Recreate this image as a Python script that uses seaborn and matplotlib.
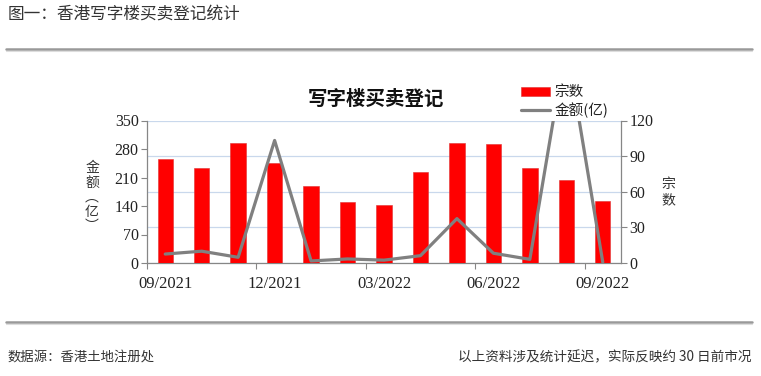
import numpy as np
import pandas as pd
import matplotlib
matplotlib.use("Agg")
import matplotlib.pyplot as plt
from matplotlib.lines import Line2D
from matplotlib.patches import Patch
import seaborn as sns

# ---- data ----
months = ["09/2021", "10/2021", "11/2021", "12/2021", "01/2022", "02/2022", "03/2022",
          "04/2022", "05/2022", "06/2022", "07/2022", "08/2022", "09/2022"]
counts = [88, 80, 101, 84, 65, 51, 49, 77, 101, 100, 80, 70, 52]          # 宗数 (right axis)
amount = [22, 29, 14, 301, 5, 10, 7, 18, 109, 24, 9, 540, 2]               # 金额(亿) (left axis)
left_ticks = [0, 70, 140, 210, 280, 350]
right_ticks = [0, 30, 60, 90, 120]
shown_labels = ["09/2021", "12/2021", "03/2022", "06/2022", "09/2022"]

sns.set_theme(style="white")
plt.rcParams["font.family"] = ["Noto Sans CJK SC", "DejaVu Sans"]

df = pd.DataFrame({"month": months, "pos": np.arange(len(months)), "count": counts, "amount": amount})

fig = plt.figure(figsize=(7.61, 3.76), dpi=100)
ax = fig.add_axes([147 / 761, 1 - 263 / 376, (621 - 147) / 761, (263 - 120.5) / 376])
ax2 = ax.twinx()

# bars (宗数) on ax, right-hand scale
sns.barplot(data=df, x="month", y="count", ax=ax, color="#FF0000", width=0.42,
            saturation=1, edgecolor="#E03030", linewidth=0.4, zorder=3)
ax.set_ylim(0, 120)
ax.set_yticks(right_ticks)
ax.yaxis.tick_right()
ax.yaxis.set_label_position("right")
ax.grid(axis="y", color="#C9D8EC", linewidth=0.9, zorder=0)
ax.grid(axis="x", visible=False)
ax.set_axisbelow(True)

# line (金额) on ax2, left-hand scale
sns.lineplot(data=df, x="pos", y="amount", ax=ax2, color="#808080", linewidth=2.3, zorder=5)
ax2.set_ylim(0, 350)
ax2.set_yticks(left_ticks)
ax2.yaxis.tick_left()
ax2.yaxis.set_label_position("left")
ax2.tick_params(axis="x", which="both", bottom=False, labelbottom=False, top=False, labeltop=False)

serif = ["Liberation Serif", "DejaVu Serif"]
tick_color = "#222222"
for a in (ax, ax2):
    a.set_xlabel("")
    a.set_ylabel("")
    for s in a.spines.values():
        s.set_visible(False)
    a.tick_params(axis="y", length=4, width=0.8, color="#868686", labelsize=11.5,
                  labelcolor=tick_color, pad=2)
    for lab in a.get_yticklabels():
        lab.set_fontfamily(serif)

ax.spines["right"].set_visible(True)
ax.spines["bottom"].set_visible(True)
ax2.spines["left"].set_visible(True)
for k in ("right", "bottom"):
    ax.spines[k].set_color("#868686")
    ax.spines[k].set_linewidth(0.9)
ax2.spines["left"].set_color("#868686")
ax2.spines["left"].set_linewidth(0.9)

# x ticks: labels every 3 months, tick marks between categories
label_pos = [months.index(m) for m in shown_labels]
ax.set_xticks(label_pos)
ax.set_xticklabels(shown_labels, fontfamily=serif, fontsize=12, color=tick_color)
ax.tick_params(axis="x", which="major", length=0, pad=9, bottom=True, labelbottom=True)
ax.set_xticks([p - 0.5 for p in label_pos[:-1]] + [len(months) - 1.5], minor=True)
ax.tick_params(axis="x", which="minor", length=4, width=0.8, color="#868686", bottom=True)
ax.set_xlim(-0.5, len(months) - 0.5)

# axis labels (vertical stacked)
fig.text(92 / 761, 1 - 197 / 376, "金\n额\n︵\n亿\n︶", ha="center", va="center",
         fontsize=10, color="#333333", linespacing=1.05)
fig.text(668 / 761, 1 - 192 / 376, "宗\n数", ha="center", va="center",
         fontsize=10, color="#333333", linespacing=1.2)

# chart title
fig.text(376 / 761, 1 - 99 / 376, "写字楼买卖登记", ha="center", va="center",
         fontsize=14, fontweight="bold", color="#111111")

# legend
handles = [Patch(facecolor="#FF0000", edgecolor="#E03030", linewidth=0.4),
           Line2D([0], [0], color="#808080", linewidth=2.3)]
fig.legend(handles, ["宗数", "金额(亿)"], loc="upper left",
           bbox_to_anchor=(514 / 761, 1 - 78 / 376), frameon=False, fontsize=10.5,
           handlelength=2.0, handleheight=0.6, handletextpad=0.3, labelspacing=0.2,
           borderpad=0.0, labelcolor="#222222")

# header / footer
fig.text(8 / 761, 1 - 14 / 376, "图一：香港写字楼买卖登记统计", ha="left", va="center",
         fontsize=12, color="#333333")
fig.add_artist(Line2D([6 / 761, 752 / 761], [1 - 48.5 / 376] * 2, color="#999999",
                      linewidth=1.8, transform=fig.transFigure))
fig.add_artist(Line2D([6 / 761, 752 / 761], [1 - 50.5 / 376] * 2, color="#DDDDDD",
                      linewidth=0.8, transform=fig.transFigure))
fig.add_artist(Line2D([6 / 761, 752 / 761], [1 - 322 / 376] * 2, color="#999999",
                      linewidth=1.8, transform=fig.transFigure))
fig.add_artist(Line2D([6 / 761, 752 / 761], [1 - 324 / 376] * 2, color="#DDDDDD",
                      linewidth=0.8, transform=fig.transFigure))
fig.text(8 / 761, 1 - 357 / 376, "数据源：香港土地注册处", ha="left", va="center",
         fontsize=9.6, color="#333333", style="italic")
fig.text(752 / 761, 1 - 357 / 376, "以上资料涉及统计延迟，实际反映约 30 日前市况", ha="right",
         va="center", fontsize=9.8, color="#333333", style="italic")

fig.savefig("out.png", dpi=100)
